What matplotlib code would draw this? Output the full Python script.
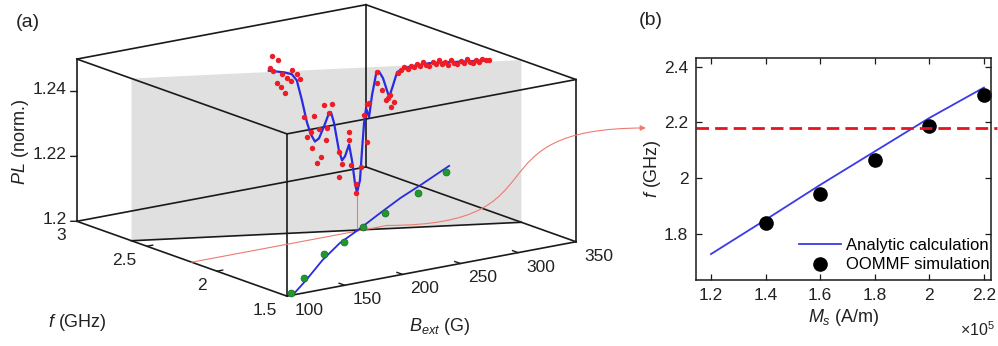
import itertools

import matplotlib
matplotlib.use("Agg")
import matplotlib.pyplot as plt
import matplotlib.transforms as mtransforms
import numpy as np
from matplotlib.patches import FancyArrowPatch
from matplotlib.path import Path
from matplotlib.ticker import FuncFormatter
from mpl_toolkits.mplot3d import proj3d
from mpl_toolkits.mplot3d.art3d import Poly3DCollection

plt.rcParams["font.family"] = ["Liberation Sans", "DejaVu Sans"]
plt.rcParams["mathtext.fontset"] = "custom"
plt.rcParams["mathtext.rm"] = "Liberation Sans"
plt.rcParams["mathtext.it"] = "Liberation Sans:italic"

TXT = "#222222"
EDGE = "#1a1a1a"
THIN_RED = "#ec7c70"
TICK_FS = 12.5
LABEL_FS = 13

# --- (a) PL spectrum measured along the slanted cut, PL vs B_ext ---
B_DOTS = [190.0, 193.8, 188.7, 190.6, 196.4, 202.8, 206.0, 199.6, 202.2, 208.0,
          193.2, 195.8, 198.3, 210.5, 217.0, 223.4, 228.5, 226.6, 215.0, 212.5,
          220.2, 225.3, 224.7, 215.7, 221.5, 218.9, 239.5, 239.5, 233.0, 235.0,
          233.0, 240.8, 244.0, 244.0, 247.2, 249.1, 251.0, 252.3, 251.0, 257.5,
          257.5, 260.7, 263.2, 266.5, 268.4, 264.5, 266.0,
          271, 273, 275, 277, 279, 281, 283, 285, 287, 289, 291, 293, 295, 297,
          299, 301, 303, 305, 307, 309, 311, 313, 315, 317, 319, 321, 323, 325,
          327, 329]
PL_DOTS = [1.2548, 1.2535, 1.2511, 1.2502, 1.2491, 1.2502, 1.2489, 1.2478, 1.2468, 1.2473,
           1.2464, 1.2451, 1.2432, 1.2355, 1.2357, 1.2389, 1.2391, 1.2364, 1.2308, 1.2293,
           1.2316, 1.2318, 1.2281, 1.2261, 1.2229, 1.2214, 1.2302, 1.2278, 1.2242, 1.2205,
           1.2165, 1.2200, 1.2141, 1.2113, 1.2193, 1.2353, 1.2386, 1.2389, 1.2269, 1.2483,
           1.2450, 1.2427, 1.2396, 1.2373, 1.2389, 1.2402, 1.2410,
           1.2478, 1.2488, 1.2495, 1.2490, 1.2499, 1.2494, 1.2503, 1.2497, 1.2508, 1.2500,
           1.2496, 1.2507, 1.2501, 1.2511, 1.2498, 1.2504, 1.2495, 1.2509, 1.2502, 1.2497,
           1.2506, 1.2500, 1.2510, 1.2503, 1.2498, 1.2507, 1.2501, 1.2509, 1.2504, 1.2506]
B_FIT = [188.0, 197.7, 202.8, 206.0, 209.3, 212.5, 215.0, 217.6, 220.2, 223.4,
         226.6, 227.9, 229.8, 233.0, 235.0, 236.9, 239.5, 241.4, 243.3, 244.6,
         246.5, 247.8, 249.1, 250.4, 252.3, 254.2, 256.8, 258.7, 261.3, 265.2,
         267.7, 270.3, 274.8, 279.9, 290.9, 303.7, 316.6, 327.5]
PL_FIT = [1.2504, 1.2497, 1.2490, 1.2470, 1.2408, 1.2339, 1.2302, 1.2279, 1.2288, 1.2324,
          1.2364, 1.2367, 1.2335, 1.2248, 1.2217, 1.2229, 1.2265, 1.2215, 1.2144, 1.2116,
          1.2153, 1.2245, 1.2328, 1.2374, 1.2346, 1.2413, 1.2478, 1.2486, 1.2464, 1.2405,
          1.2441, 1.2481, 1.2492, 1.2497, 1.2504, 1.2504, 1.2504, 1.2505]

# dispersion f(B_ext) on the floor of the box
B_SIM = [107, 138, 188, 218, 253, 288, 338, 388]
F_SIM = [1.53, 1.694, 1.96, 2.07, 2.22, 2.35, 2.53, 2.74]
B_DISP = [105, 136.4, 177.4, 214.3, 245.3, 285.0, 320.3, 352.5, 398.8]
F_DISP = [1.50, 1.663, 1.885, 2.066, 2.192, 2.361, 2.508, 2.629, 2.809]

F_RES = 2.18          # resonance frequency picked from the dip
B_DIP = 244.6         # field of the PL minimum
B_ARROW = 269         # where the guide line leaves the floor
CUT_F = (2.61, 1.89)  # f of the cut plane at B = 100 and B = 350

B_LIM = (100, 350)
F_LIM = (1.5, 3)
PL_LIM = (1.2, 1.25)
B_TICKS = [100, 150, 200, 250, 300, 350]
F_TICKS = [1.5, 2, 2.5, 3]
PL_TICKS = [1.2, 1.22, 1.24]

# --- (b) resonance frequency vs saturation magnetisation (x 10^5 A/m) ---
MS_CALC = [1.2, 1.4, 1.6, 1.8, 2.0, 2.2]
F_CALC = [1.728, 1.851, 1.976, 2.096, 2.216, 2.325]
MS_OOMMF = [1.4, 1.6, 1.8, 2.0, 2.2]
F_OOMMF = [1.838, 1.942, 2.067, 2.188, 2.298]


def cut_f(b):
    return np.interp(b, B_LIM, CUT_F)


fig = plt.figure(figsize=(9.98, 3.46), dpi=100)

ax = fig.add_axes([0.0611, -0.2020, 0.5180, 1.4942], projection="3d",
                  proj_type="ortho", computed_zorder=False)
ax.set_box_aspect((1, 1, 0.47))
ax.view_init(elev=15, azim=-126)
ax.set_xlim(*B_LIM)
ax.set_ylim(*F_LIM)
ax.set_zlim(*PL_LIM)
ax.set_axis_off()
ax.patch.set_alpha(0)
M = ax.get_proj()


def to_2d(b, f, z):
    x2, y2, _ = proj3d.proj_transform(b, f, z, M)
    return x2, y2


def label3d(b, f, z, s, **kw):
    x2, y2 = to_2d(b, f, z)
    ax.text2D(x2, y2, s, transform=ax.transData, color=TXT, **kw)


# grey cut plane
plane = [(B_LIM[0], CUT_F[0], PL_LIM[0]), (B_LIM[1], CUT_F[1], PL_LIM[0]),
         (B_LIM[1], CUT_F[1], PL_LIM[1]), (B_LIM[0], CUT_F[0], PL_LIM[1])]
ax.add_collection3d(Poly3DCollection([plane], facecolor="#e0e0e0",
                                     edgecolor="none", zorder=1))
ax.plot(B_LIM, CUT_F, PL_LIM[0], color=EDGE, lw=1.2, zorder=2)

# full box
for p, q in itertools.combinations(itertools.product(B_LIM, F_LIM, PL_LIM), 2):
    if sum(a != b for a, b in zip(p, q)) == 1:
        ax.plot(*zip(p, q), color=EDGE, lw=1.2, zorder=2)

# ticks and tick labels
for b in B_TICKS[1:-1]:
    ax.plot([b, b], [1.5, 1.54], [1.2, 1.2], color=EDGE, lw=1.0, zorder=2)
for b in B_TICKS:
    label3d(b, 1.34, 1.198, f"{b}", ha="center", va="center", fontsize=TICK_FS)
for f in F_TICKS[1:-1]:
    ax.plot([100, 105], [f, f], [1.2, 1.2], color=EDGE, lw=1.0, zorder=2)
for f in F_TICKS:
    label3d(91, f, 1.1962, f"{f:g}", ha="right", va="center", fontsize=TICK_FS)
for z in PL_TICKS:
    ax.plot([100, 96.6], [3, 3.0148], [z, z], color=EDGE, lw=1.0, zorder=2)
    label3d(94.3, 3.0246, z + 0.0007, f"{z:g}", ha="right", va="center",
            fontsize=TICK_FS)

label3d(68, 3.138, 1.2244, r"$PL$ (norm.)", rotation=90, ha="center",
        va="center", fontsize=LABEL_FS)
label3d(10, 2.25, 1.1864, r"$f$ (GHz)", ha="center", va="center",
        fontsize=LABEL_FS)
label3d(225, 1.443, 1.183, r"$B_{ext}$ (G)", ha="center", va="center",
        fontsize=LABEL_FS)

# guide lines: resonance frequency on the floor, dip down to the floor
ax.plot([B_LIM[0], B_ARROW], [F_RES, F_RES], [1.2, 1.2], color=THIN_RED,
        lw=0.8, zorder=3)
ax.plot([B_DIP, B_DIP], [cut_f(B_DIP)] * 2, [1.2, min(PL_FIT)],
        color=THIN_RED, lw=0.8, zorder=3)

# dispersion on the floor
ax.plot(B_DISP, F_DISP, 1.2, color="#2a2ae0", lw=1.3, zorder=4)
ax.plot(B_SIM, F_SIM, 1.2, "o", ms=5, mfc="#1f9a2e", mec="#176b22",
        mew=0.5, zorder=5)

# PL trace in the cut plane
ax.plot(B_FIT, cut_f(B_FIT), PL_FIT, color="#2a2ae0", lw=1.6, zorder=4)
ax.plot(B_DOTS, cut_f(B_DOTS), PL_DOTS, "o", ms=3.9, mfc="#ee1c24",
        mec="none", zorder=5)

# --- panel (b) ---
axb = fig.add_axes([0.6974, 0.1908, 0.2956, 0.6416])
axb.plot(MS_CALC, F_CALC, color="#3a3ae8", lw=1.3, label="Analytic calculation")
axb.plot(MS_OOMMF, F_OOMMF, "o", color="black", ms=9.5,
         label="OOMMF simulation")
axb.axhline(F_RES, xmax=1.02, color="#e8141c", lw=2.0, ls=(0, (4.5, 2.2)),
            clip_on=False)
axb.set_xlim(1.145, 2.226)
axb.set_ylim(1.635, 2.431)
axb.set_xticks(MS_CALC)
axb.set_yticks([1.8, 2.0, 2.2, 2.4])
fmt = FuncFormatter(lambda v, _: f"{v:g}")
axb.xaxis.set_major_formatter(fmt)
axb.yaxis.set_major_formatter(fmt)
axb.tick_params(direction="in", top=True, right=True, length=4, width=0.9,
                labelsize=TICK_FS, labelcolor=TXT, color=EDGE, pad=5.5)
for s in axb.spines.values():
    s.set_color(EDGE)
    s.set_linewidth(1.1)
axb.set_xlabel(r"$M_s$ (A/m)", fontsize=LABEL_FS, color=TXT, labelpad=3)
axb.set_ylabel(r"$f$ (GHz)", fontsize=LABEL_FS, color=TXT, labelpad=1)
axb.text(1.015, -0.225, r"$\times10^5$", transform=axb.transAxes,
         ha="right", va="center", fontsize=11.5, color=TXT)
axb.legend(loc="lower right", bbox_to_anchor=(1.02, 0.0), frameon=False,
           fontsize=12, handlelength=2.5, handletextpad=0.3,
           labelspacing=0.25, borderaxespad=0.05)

fig.text(0.028, 0.936, "(a)", ha="center", va="center", fontsize=14, color=TXT)
fig.text(0.652, 0.942, "(b)", ha="center", va="center", fontsize=14, color=TXT)

# curved arrow from the floor line of (a) to the dashed level of (b)
fig.canvas.draw()
start = ax.transData.transform(to_2d(B_ARROW, F_RES, 1.2))
to_b = mtransforms.blended_transform_factory(axb.transAxes, axb.transData)
end = to_b.transform((-0.17, F_RES))
k = 0.7 * (end[0] - start[0])
verts = [start, (start[0] + k, start[1]), (end[0] - k, end[1]), end]
verts = fig.transFigure.inverted().transform(verts)
path = Path(verts, [Path.MOVETO, Path.CURVE4, Path.CURVE4, Path.CURVE4])
fig.add_artist(FancyArrowPatch(path=path, arrowstyle="-|>", mutation_scale=8,
                               color=THIN_RED, lw=0.8,
                               transform=fig.transFigure))

fig.savefig("out.png", dpi=100)
